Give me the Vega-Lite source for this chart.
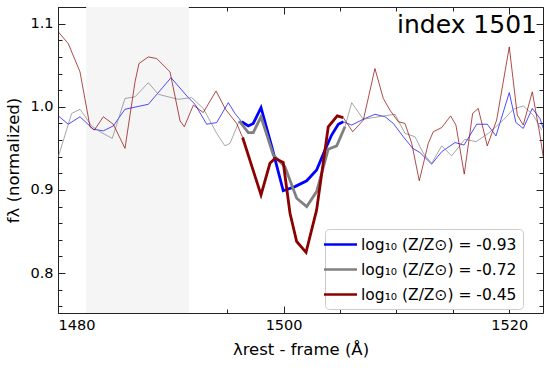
{
  "$schema": "https://vega.github.io/schema/vega-lite/v6.json",
  "width": 485,
  "height": 306,
  "autosize": {"type": "none"},
  "padding": {"left": 58, "top": 7, "right": 7, "bottom": 55},
  "config": {
    "font": "DejaVu Sans",
    "view": {"stroke": "#222", "strokeWidth": 1},
    "axis": {"domain": false, "grid": false, "tickColor": "#222", "labelColor": "#000", "titleColor": "#000", "labelFontSize": 14.5, "titleFontSize": 16.5, "titleFontWeight": "normal"}
  },
  "title": {"text": "index 1501", "anchor": "end", "frame": "group", "fontSize": 25, "fontWeight": "normal", "color": "#000", "offset": -31, "dx": -6},
  "datasets": {
    "band": [{"start": 1482.5, "end": 1491.6}],
    "spec": [
      {"lam": 1480.03, "flux": 0.989, "series": "log₁₀ (Z/Z⊙) = -0.93"},
      {"lam": 1480.91, "flux": 0.979, "series": "log₁₀ (Z/Z⊙) = -0.93"},
      {"lam": 1481.95, "flux": 0.988, "series": "log₁₀ (Z/Z⊙) = -0.93"},
      {"lam": 1483.13, "flux": 0.973, "series": "log₁₀ (Z/Z⊙) = -0.93"},
      {"lam": 1484.02, "flux": 0.971, "series": "log₁₀ (Z/Z⊙) = -0.93"},
      {"lam": 1484.90, "flux": 0.977, "series": "log₁₀ (Z/Z⊙) = -0.93"},
      {"lam": 1485.94, "flux": 0.997, "series": "log₁₀ (Z/Z⊙) = -0.93"},
      {"lam": 1488.01, "flux": 1.003, "series": "log₁₀ (Z/Z⊙) = -0.93"},
      {"lam": 1490.02, "flux": 1.035, "series": "log₁₀ (Z/Z⊙) = -0.93"},
      {"lam": 1491.55, "flux": 1.011, "series": "log₁₀ (Z/Z⊙) = -0.93"},
      {"lam": 1492.15, "flux": 1.003, "series": "log₁₀ (Z/Z⊙) = -0.93"},
      {"lam": 1493.18, "flux": 0.979, "series": "log₁₀ (Z/Z⊙) = -0.93"},
      {"lam": 1494.07, "flux": 0.981, "series": "log₁₀ (Z/Z⊙) = -0.93"},
      {"lam": 1495.10, "flux": 1.005, "series": "log₁₀ (Z/Z⊙) = -0.93"},
      {"lam": 1495.69, "flux": 0.992, "series": "log₁₀ (Z/Z⊙) = -0.93"},
      {"lam": 1496.29, "flux": 0.982, "series": "log₁₀ (Z/Z⊙) = -0.93"},
      {"lam": 1496.87, "flux": 0.977, "series": "log₁₀ (Z/Z⊙) = -0.93"},
      {"lam": 1497.31, "flux": 0.980, "series": "log₁₀ (Z/Z⊙) = -0.93"},
      {"lam": 1498.00, "flux": 0.999, "series": "log₁₀ (Z/Z⊙) = -0.93"},
      {"lam": 1498.95, "flux": 0.952, "series": "log₁₀ (Z/Z⊙) = -0.93"},
      {"lam": 1499.97, "flux": 0.899, "series": "log₁₀ (Z/Z⊙) = -0.93"},
      {"lam": 1501.01, "flux": 0.904, "series": "log₁₀ (Z/Z⊙) = -0.93"},
      {"lam": 1502.05, "flux": 0.911, "series": "log₁₀ (Z/Z⊙) = -0.93"},
      {"lam": 1502.93, "flux": 0.924, "series": "log₁₀ (Z/Z⊙) = -0.93"},
      {"lam": 1503.67, "flux": 0.948, "series": "log₁₀ (Z/Z⊙) = -0.93"},
      {"lam": 1504.26, "flux": 0.966, "series": "log₁₀ (Z/Z⊙) = -0.93"},
      {"lam": 1504.85, "flux": 0.979, "series": "log₁₀ (Z/Z⊙) = -0.93"},
      {"lam": 1505.29, "flux": 0.982, "series": "log₁₀ (Z/Z⊙) = -0.93"},
      {"lam": 1506.04, "flux": 0.978, "series": "log₁₀ (Z/Z⊙) = -0.93"},
      {"lam": 1507.07, "flux": 0.985, "series": "log₁₀ (Z/Z⊙) = -0.93"},
      {"lam": 1508.10, "flux": 0.991, "series": "log₁₀ (Z/Z⊙) = -0.93"},
      {"lam": 1508.99, "flux": 0.988, "series": "log₁₀ (Z/Z⊙) = -0.93"},
      {"lam": 1509.73, "flux": 0.980, "series": "log₁₀ (Z/Z⊙) = -0.93"},
      {"lam": 1510.61, "flux": 0.964, "series": "log₁₀ (Z/Z⊙) = -0.93"},
      {"lam": 1511.45, "flux": 0.950, "series": "log₁₀ (Z/Z⊙) = -0.93"},
      {"lam": 1512.09, "flux": 0.945, "series": "log₁₀ (Z/Z⊙) = -0.93"},
      {"lam": 1513.13, "flux": 0.931, "series": "log₁₀ (Z/Z⊙) = -0.93"},
      {"lam": 1514.02, "flux": 0.946, "series": "log₁₀ (Z/Z⊙) = -0.93"},
      {"lam": 1515.20, "flux": 0.957, "series": "log₁₀ (Z/Z⊙) = -0.93"},
      {"lam": 1516.00, "flux": 0.954, "series": "log₁₀ (Z/Z⊙) = -0.93"},
      {"lam": 1517.12, "flux": 0.979, "series": "log₁₀ (Z/Z⊙) = -0.93"},
      {"lam": 1518.06, "flux": 0.979, "series": "log₁₀ (Z/Z⊙) = -0.93"},
      {"lam": 1518.83, "flux": 0.965, "series": "log₁₀ (Z/Z⊙) = -0.93"},
      {"lam": 1520.01, "flux": 1.017, "series": "log₁₀ (Z/Z⊙) = -0.93"},
      {"lam": 1520.60, "flux": 0.981, "series": "log₁₀ (Z/Z⊙) = -0.93"},
      {"lam": 1521.25, "flux": 0.974, "series": "log₁₀ (Z/Z⊙) = -0.93"},
      {"lam": 1522.05, "flux": 0.998, "series": "log₁₀ (Z/Z⊙) = -0.93"},
      {"lam": 1522.73, "flux": 0.986, "series": "log₁₀ (Z/Z⊙) = -0.93"},
      {"lam": 1523.02, "flux": 0.974, "series": "log₁₀ (Z/Z⊙) = -0.93"},

      {"lam": 1480.03, "flux": 0.940, "series": "log₁₀ (Z/Z⊙) = -0.72"},
      {"lam": 1481.21, "flux": 0.992, "series": "log₁₀ (Z/Z⊙) = -0.72"},
      {"lam": 1481.95, "flux": 0.997, "series": "log₁₀ (Z/Z⊙) = -0.72"},
      {"lam": 1482.99, "flux": 0.977, "series": "log₁₀ (Z/Z⊙) = -0.72"},
      {"lam": 1483.72, "flux": 0.970, "series": "log₁₀ (Z/Z⊙) = -0.72"},
      {"lam": 1484.81, "flux": 0.962, "series": "log₁₀ (Z/Z⊙) = -0.72"},
      {"lam": 1485.94, "flux": 1.010, "series": "log₁₀ (Z/Z⊙) = -0.72"},
      {"lam": 1486.83, "flux": 1.012, "series": "log₁₀ (Z/Z⊙) = -0.72"},
      {"lam": 1488.01, "flux": 1.029, "series": "log₁₀ (Z/Z⊙) = -0.72"},
      {"lam": 1488.89, "flux": 1.015, "series": "log₁₀ (Z/Z⊙) = -0.72"},
      {"lam": 1490.66, "flux": 1.009, "series": "log₁₀ (Z/Z⊙) = -0.72"},
      {"lam": 1491.85, "flux": 1.011, "series": "log₁₀ (Z/Z⊙) = -0.72"},
      {"lam": 1492.88, "flux": 0.998, "series": "log₁₀ (Z/Z⊙) = -0.72"},
      {"lam": 1494.07, "flux": 0.968, "series": "log₁₀ (Z/Z⊙) = -0.72"},
      {"lam": 1494.80, "flux": 0.953, "series": "log₁₀ (Z/Z⊙) = -0.72"},
      {"lam": 1495.25, "flux": 0.956, "series": "log₁₀ (Z/Z⊙) = -0.72"},
      {"lam": 1496.07, "flux": 0.983, "series": "log₁₀ (Z/Z⊙) = -0.72"},
      {"lam": 1496.87, "flux": 0.969, "series": "log₁₀ (Z/Z⊙) = -0.72"},
      {"lam": 1497.31, "flux": 0.969, "series": "log₁₀ (Z/Z⊙) = -0.72"},
      {"lam": 1498.00, "flux": 0.988, "series": "log₁₀ (Z/Z⊙) = -0.72"},
      {"lam": 1499.09, "flux": 0.942, "series": "log₁₀ (Z/Z⊙) = -0.72"},
      {"lam": 1500.12, "flux": 0.928, "series": "log₁₀ (Z/Z⊙) = -0.72"},
      {"lam": 1501.16, "flux": 0.890, "series": "log₁₀ (Z/Z⊙) = -0.72"},
      {"lam": 1502.05, "flux": 0.880, "series": "log₁₀ (Z/Z⊙) = -0.72"},
      {"lam": 1502.93, "flux": 0.898, "series": "log₁₀ (Z/Z⊙) = -0.72"},
      {"lam": 1503.96, "flux": 0.949, "series": "log₁₀ (Z/Z⊙) = -0.72"},
      {"lam": 1504.71, "flux": 0.953, "series": "log₁₀ (Z/Z⊙) = -0.72"},
      {"lam": 1505.44, "flux": 0.976, "series": "log₁₀ (Z/Z⊙) = -0.72"},
      {"lam": 1506.04, "flux": 1.005, "series": "log₁₀ (Z/Z⊙) = -0.72"},
      {"lam": 1507.07, "flux": 0.985, "series": "log₁₀ (Z/Z⊙) = -0.72"},
      {"lam": 1507.95, "flux": 0.987, "series": "log₁₀ (Z/Z⊙) = -0.72"},
      {"lam": 1509.88, "flux": 0.991, "series": "log₁₀ (Z/Z⊙) = -0.72"},
      {"lam": 1510.76, "flux": 0.968, "series": "log₁₀ (Z/Z⊙) = -0.72"},
      {"lam": 1511.65, "flux": 0.964, "series": "log₁₀ (Z/Z⊙) = -0.72"},
      {"lam": 1512.39, "flux": 0.944, "series": "log₁₀ (Z/Z⊙) = -0.72"},
      {"lam": 1513.13, "flux": 0.932, "series": "log₁₀ (Z/Z⊙) = -0.72"},
      {"lam": 1514.02, "flux": 0.953, "series": "log₁₀ (Z/Z⊙) = -0.72"},
      {"lam": 1514.90, "flux": 0.941, "series": "log₁₀ (Z/Z⊙) = -0.72"},
      {"lam": 1516.08, "flux": 0.961, "series": "log₁₀ (Z/Z⊙) = -0.72"},
      {"lam": 1517.06, "flux": 0.958, "series": "log₁₀ (Z/Z⊙) = -0.72"},
      {"lam": 1518.15, "flux": 0.968, "series": "log₁₀ (Z/Z⊙) = -0.72"},
      {"lam": 1519.48, "flux": 0.984, "series": "log₁₀ (Z/Z⊙) = -0.72"},
      {"lam": 1520.36, "flux": 0.997, "series": "log₁₀ (Z/Z⊙) = -0.72"},
      {"lam": 1521.25, "flux": 1.001, "series": "log₁₀ (Z/Z⊙) = -0.72"},
      {"lam": 1522.14, "flux": 0.990, "series": "log₁₀ (Z/Z⊙) = -0.72"},
      {"lam": 1522.88, "flux": 0.972, "series": "log₁₀ (Z/Z⊙) = -0.72"},

      {"lam": 1480.03, "flux": 1.090, "series": "log₁₀ (Z/Z⊙) = -0.45"},
      {"lam": 1480.91, "flux": 1.076, "series": "log₁₀ (Z/Z⊙) = -0.45"},
      {"lam": 1481.95, "flux": 1.042, "series": "log₁₀ (Z/Z⊙) = -0.45"},
      {"lam": 1482.84, "flux": 0.976, "series": "log₁₀ (Z/Z⊙) = -0.45"},
      {"lam": 1483.22, "flux": 0.972, "series": "log₁₀ (Z/Z⊙) = -0.45"},
      {"lam": 1484.02, "flux": 0.988, "series": "log₁₀ (Z/Z⊙) = -0.45"},
      {"lam": 1484.90, "flux": 0.979, "series": "log₁₀ (Z/Z⊙) = -0.45"},
      {"lam": 1485.94, "flux": 0.950, "series": "log₁₀ (Z/Z⊙) = -0.45"},
      {"lam": 1486.83, "flux": 1.030, "series": "log₁₀ (Z/Z⊙) = -0.45"},
      {"lam": 1487.18, "flux": 1.052, "series": "log₁₀ (Z/Z⊙) = -0.45"},
      {"lam": 1488.01, "flux": 1.060, "series": "log₁₀ (Z/Z⊙) = -0.45"},
      {"lam": 1488.75, "flux": 1.058, "series": "log₁₀ (Z/Z⊙) = -0.45"},
      {"lam": 1489.93, "flux": 1.042, "series": "log₁₀ (Z/Z⊙) = -0.45"},
      {"lam": 1490.82, "flux": 0.983, "series": "log₁₀ (Z/Z⊙) = -0.45"},
      {"lam": 1491.20, "flux": 0.976, "series": "log₁₀ (Z/Z⊙) = -0.45"},
      {"lam": 1492.00, "flux": 1.002, "series": "log₁₀ (Z/Z⊙) = -0.45"},
      {"lam": 1492.88, "flux": 0.993, "series": "log₁₀ (Z/Z⊙) = -0.45"},
      {"lam": 1494.01, "flux": 1.019, "series": "log₁₀ (Z/Z⊙) = -0.45"},
      {"lam": 1494.85, "flux": 0.997, "series": "log₁₀ (Z/Z⊙) = -0.45"},
      {"lam": 1495.84, "flux": 0.980, "series": "log₁₀ (Z/Z⊙) = -0.45"},
      {"lam": 1496.37, "flux": 0.963, "series": "log₁₀ (Z/Z⊙) = -0.45"},
      {"lam": 1498.00, "flux": 0.894, "series": "log₁₀ (Z/Z⊙) = -0.45"},
      {"lam": 1498.79, "flux": 0.932, "series": "log₁₀ (Z/Z⊙) = -0.45"},
      {"lam": 1499.24, "flux": 0.938, "series": "log₁₀ (Z/Z⊙) = -0.45"},
      {"lam": 1499.97, "flux": 0.933, "series": "log₁₀ (Z/Z⊙) = -0.45"},
      {"lam": 1500.57, "flux": 0.872, "series": "log₁₀ (Z/Z⊙) = -0.45"},
      {"lam": 1501.16, "flux": 0.838, "series": "log₁₀ (Z/Z⊙) = -0.45"},
      {"lam": 1501.99, "flux": 0.825, "series": "log₁₀ (Z/Z⊙) = -0.45"},
      {"lam": 1502.93, "flux": 0.876, "series": "log₁₀ (Z/Z⊙) = -0.45"},
      {"lam": 1503.96, "flux": 0.976, "series": "log₁₀ (Z/Z⊙) = -0.45"},
      {"lam": 1504.76, "flux": 0.989, "series": "log₁₀ (Z/Z⊙) = -0.45"},
      {"lam": 1505.29, "flux": 0.987, "series": "log₁₀ (Z/Z⊙) = -0.45"},
      {"lam": 1506.13, "flux": 0.970, "series": "log₁₀ (Z/Z⊙) = -0.45"},
      {"lam": 1507.07, "flux": 0.984, "series": "log₁₀ (Z/Z⊙) = -0.45"},
      {"lam": 1508.10, "flux": 1.046, "series": "log₁₀ (Z/Z⊙) = -0.45"},
      {"lam": 1508.84, "flux": 1.010, "series": "log₁₀ (Z/Z⊙) = -0.45"},
      {"lam": 1509.43, "flux": 0.996, "series": "log₁₀ (Z/Z⊙) = -0.45"},
      {"lam": 1510.17, "flux": 0.982, "series": "log₁₀ (Z/Z⊙) = -0.45"},
      {"lam": 1510.76, "flux": 0.980, "series": "log₁₀ (Z/Z⊙) = -0.45"},
      {"lam": 1511.36, "flux": 0.956, "series": "log₁₀ (Z/Z⊙) = -0.45"},
      {"lam": 1512.03, "flux": 0.911, "series": "log₁₀ (Z/Z⊙) = -0.45"},
      {"lam": 1512.83, "flux": 0.956, "series": "log₁₀ (Z/Z⊙) = -0.45"},
      {"lam": 1513.27, "flux": 0.970, "series": "log₁₀ (Z/Z⊙) = -0.45"},
      {"lam": 1514.02, "flux": 0.975, "series": "log₁₀ (Z/Z⊙) = -0.45"},
      {"lam": 1514.81, "flux": 0.989, "series": "log₁₀ (Z/Z⊙) = -0.45"},
      {"lam": 1515.28, "flux": 0.978, "series": "log₁₀ (Z/Z⊙) = -0.45"},
      {"lam": 1516.02, "flux": 0.919, "series": "log₁₀ (Z/Z⊙) = -0.45"},
      {"lam": 1516.76, "flux": 0.992, "series": "log₁₀ (Z/Z⊙) = -0.45"},
      {"lam": 1517.26, "flux": 0.998, "series": "log₁₀ (Z/Z⊙) = -0.45"},
      {"lam": 1518.06, "flux": 0.953, "series": "log₁₀ (Z/Z⊙) = -0.45"},
      {"lam": 1518.89, "flux": 0.984, "series": "log₁₀ (Z/Z⊙) = -0.45"},
      {"lam": 1520.01, "flux": 1.072, "series": "log₁₀ (Z/Z⊙) = -0.45"},
      {"lam": 1520.72, "flux": 0.990, "series": "log₁₀ (Z/Z⊙) = -0.45"},
      {"lam": 1521.25, "flux": 0.978, "series": "log₁₀ (Z/Z⊙) = -0.45"},
      {"lam": 1522.05, "flux": 1.018, "series": "log₁₀ (Z/Z⊙) = -0.45"},
      {"lam": 1522.73, "flux": 0.966, "series": "log₁₀ (Z/Z⊙) = -0.45"},
      {"lam": 1523.02, "flux": 0.940, "series": "log₁₀ (Z/Z⊙) = -0.45"}
    ]
  },
  "layer": [
    {
      "data": {"name": "band"},
      "mark": {"type": "rect", "color": "#f5f5f5"},
      "encoding": {
        "x": {"field": "start", "type": "quantitative", "scale": {"domain": [1480, 1523], "nice": false, "zero": false}, "axis": null},
        "x2": {"field": "end"}
      }
    },
    {
      "data": {"name": "spec"},
      "mark": {"type": "line", "strokeWidth": 1, "opacity": 0.7, "clip": true},
      "encoding": {
        "x": {"field": "lam", "type": "quantitative", "scale": {"domain": [1480, 1523], "nice": false, "zero": false},
              "axis": {"orient": "bottom", "values": [1480, 1500, 1520], "tickSize": -7, "labelPadding": 12, "format": "d", "title": "λrest - frame (Å)", "titlePadding": 10}},
        "y": {"field": "flux", "type": "quantitative", "scale": {"domain": [0.752, 1.12], "nice": false, "zero": false},
              "axis": {"orient": "left", "values": [0.8, 0.9, 1.0, 1.1], "tickSize": -7, "labelPadding": 12, "format": ".1f", "title": "fλ (normalized)", "titlePadding": 8}},
        "color": {"field": "series", "type": "nominal", "sort": null,
                  "scale": {"domain": ["log₁₀ (Z/Z⊙) = -0.93", "log₁₀ (Z/Z⊙) = -0.72", "log₁₀ (Z/Z⊙) = -0.45"], "range": ["#0000ff", "#808080", "#8b0000"]},
                  "legend": {"orient": "none", "legendX": 267, "legendY": 222, "title": null, "symbolType": "M-2,0H2", "symbolSize": 272, "symbolStrokeWidth": 2.5, "symbolOpacity": 1, "symbolFillColor": "transparent", "labelFontSize": 15.5, "labelLimit": 300, "labelColor": "#000", "fillColor": "#ffffff", "strokeColor": "#cccccc", "cornerRadius": 4, "padding": 6, "rowPadding": 7, "labelOffset": 11}}
      }
    },
    {
      "data": {"name": "spec"},
      "transform": [{"filter": "datum.lam >= 1496.0 && datum.lam <= 1505.6"}],
      "mark": {"type": "line", "strokeWidth": 2.8},
      "encoding": {
        "x": {"field": "lam", "type": "quantitative", "axis": {"orient": "bottom", "values": [1480, 1485, 1490, 1495, 1500, 1505, 1510, 1515, 1520], "tickSize": -4, "labels": false, "title": null}},
        "y": {"field": "flux", "type": "quantitative", "axis": {"orient": "left", "values": [0.76, 0.78, 0.8, 0.82, 0.84, 0.86, 0.88, 0.9, 0.92, 0.94, 0.96, 0.98, 1.0, 1.02, 1.04, 1.06, 1.08, 1.1, 1.12], "tickSize": -4, "labels": false, "title": null}},
        "color": {"field": "series", "type": "nominal", "sort": null}
      }
    },
    {
      "data": {"name": "spec"},
      "mark": {"type": "point", "opacity": 0},
      "encoding": {
        "x": {"field": "lam", "type": "quantitative", "axis": {"orient": "top", "values": [1480, 1500, 1520], "tickSize": -7, "labels": false, "title": null}},
        "y": {"field": "flux", "type": "quantitative", "axis": {"orient": "right", "values": [0.8, 0.9, 1.0, 1.1], "tickSize": -7, "labels": false, "title": null}}
      }
    },
    {
      "data": {"name": "spec"},
      "mark": {"type": "point", "opacity": 0},
      "encoding": {
        "x": {"field": "lam", "type": "quantitative", "axis": {"orient": "top", "values": [1480, 1485, 1490, 1495, 1500, 1505, 1510, 1515, 1520], "tickSize": -4, "labels": false, "title": null}},
        "y": {"field": "flux", "type": "quantitative", "axis": {"orient": "right", "values": [0.76, 0.78, 0.8, 0.82, 0.84, 0.86, 0.88, 0.9, 0.92, 0.94, 0.96, 0.98, 1.0, 1.02, 1.04, 1.06, 1.08, 1.1, 1.12], "tickSize": -4, "labels": false, "title": null}}
      }
    }
  ],
  "resolve": {"axis": {"x": "independent", "y": "independent"}}
}
